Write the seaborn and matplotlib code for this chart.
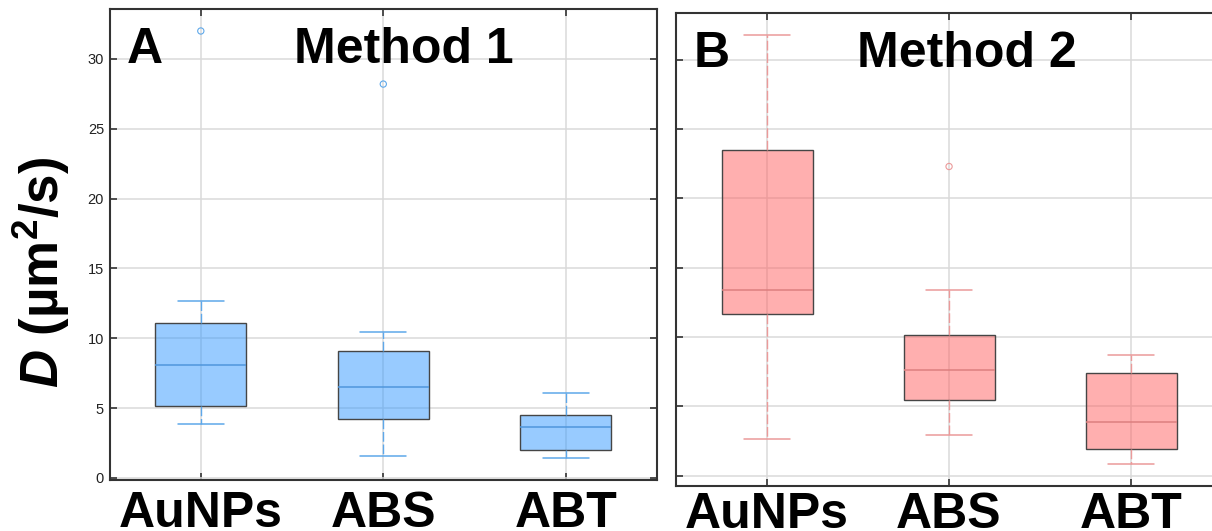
import numpy as np
import pandas as pd
import seaborn as sns
import matplotlib.pyplot as plt

# box summaries (D in um^2/s)
groups = ["AuNPs", "ABS", "ABT"]

m1_low = [3.83, 1.60, 1.43]
m1_q1 = [5.14, 4.24, 2.02]
m1_med = [8.12, 6.48, 3.64]
m1_q3 = [11.07, 9.07, 4.50]
m1_high = [12.69, 10.48, 6.07]
m1_out_group = ["AuNPs", "ABS"]
m1_out_val = [32.0, 28.2]

m2_low = [2.62, 2.91, 0.87]
m2_q1 = [11.64, 5.48, 1.93]
m2_med = [13.38, 7.63, 3.85]
m2_q3 = [23.52, 10.17, 7.39]
m2_high = [31.82, 13.38, 8.71]
m2_out_group = ["ABS"]
m2_out_val = [22.3]

yticks = [0, 5, 10, 15, 20, 25, 30]

sns.set_theme(style="whitegrid")
plt.rcParams["font.family"] = ["Liberation Sans", "DejaVu Sans"]
plt.rcParams["text.color"] = "black"
plt.rcParams["xtick.color"] = "black"
plt.rcParams["mathtext.fontset"] = "custom"
plt.rcParams["mathtext.rm"] = "Liberation Sans:bold"
plt.rcParams["mathtext.it"] = "Liberation Sans:italic:bold"
plt.rcParams["mathtext.bf"] = "Liberation Sans:bold"


def to_long(low, q1, med, q3, high):
    rows = []
    for g, a, b, c, d, e in zip(groups, low, q1, med, q3, high):
        for v in (a, b, c, d, e):
            rows.append({"group": g, "D": v})
    return pd.DataFrame(rows)


df1 = to_long(m1_low, m1_q1, m1_med, m1_q3, m1_high)
df2 = to_long(m2_low, m2_q1, m2_med, m2_q3, m2_high)
out1 = pd.DataFrame({"group": m1_out_group, "D": m1_out_val})
out2 = pd.DataFrame({"group": m2_out_group, "D": m2_out_val})

fig = plt.figure(figsize=(12.12, 5.31), dpi=100)
ax1 = fig.add_axes([0.0904, 0.096, 0.4517, 0.8864])
ax2 = fig.add_axes([0.5578, 0.0847, 0.4505, 0.8902])

panels = [
    (ax1, df1, out1, (0.2, 0.6, 1.0, 0.5), "#4f96dc", "#5ea8ea", (-0.15, 33.55), "A", "Method 1", 0.538, 8),
    (ax2, df2, out2, (1.0, 0.38, 0.38, 0.5), "#dd7f7f", "#eb9a9a", (-0.75, 33.35), "B", "Method 2", 0.533, 4.5),
]

for ax, df, out, face, med_c, wh_c, ylim, letter, title, tx, xpad in panels:
    sns.boxplot(data=df, x="group", y="D", order=groups, ax=ax, whis=(0, 100),
                width=0.5, saturation=1, showfliers=False,
                boxprops=dict(facecolor=face, edgecolor="#454545", linewidth=1),
                medianprops=dict(color=med_c, linewidth=1.1),
                whiskerprops=dict(color=wh_c, linewidth=1, linestyle=(0, (7, 2))),
                capprops=dict(color=wh_c, linewidth=1.1))
    sns.stripplot(data=out, x="group", y="D", order=groups, ax=ax, jitter=False,
                  marker="o", size=4.5, facecolor="none", edgecolor=wh_c, linewidth=0.8)
    for c in ax.collections:
        c.set_facecolor("none")
        c.set_edgecolor(wh_c)

    ax.set_xlim(-0.5, 2.5)
    ax.set_ylim(*ylim)
    ax.set_yticks(yticks)
    ax.set_xlabel("")
    ax.set_ylabel("")
    ax.set_axisbelow(True)
    ax.grid(True, color="#dadada", linewidth=1.1)
    for s in ax.spines.values():
        s.set_visible(True)
        s.set_color("#333333")
        s.set_linewidth(1.5)
    ax.tick_params(axis="both", direction="in", length=5, width=1.2, color="#333333",
                   top=True, right=True, bottom=True, left=True)
    ax.tick_params(axis="x", labelsize=36, pad=xpad, labelcolor="black")
    ax.tick_params(axis="y", labelsize=10.5, labelcolor="#222222", pad=4)
    for lab in ax.get_xticklabels():
        lab.set_fontweight("bold")
    ax.text(0.032, 0.886, letter, transform=ax.transAxes, fontsize=36,
            fontweight="bold", va="baseline", ha="left", color="black")
    ax.text(tx, 0.886, title, transform=ax.transAxes, fontsize=36,
            fontweight="bold", va="baseline", ha="center", color="black")

ax2.tick_params(axis="y", labelleft=False)

fig.text(0.034, 0.486, r"$D$ (µm$^{2}$/s)", rotation=90, fontsize=38,
         fontweight="bold", ha="center", va="center", color="black")

fig.savefig("out.png", dpi=100)
